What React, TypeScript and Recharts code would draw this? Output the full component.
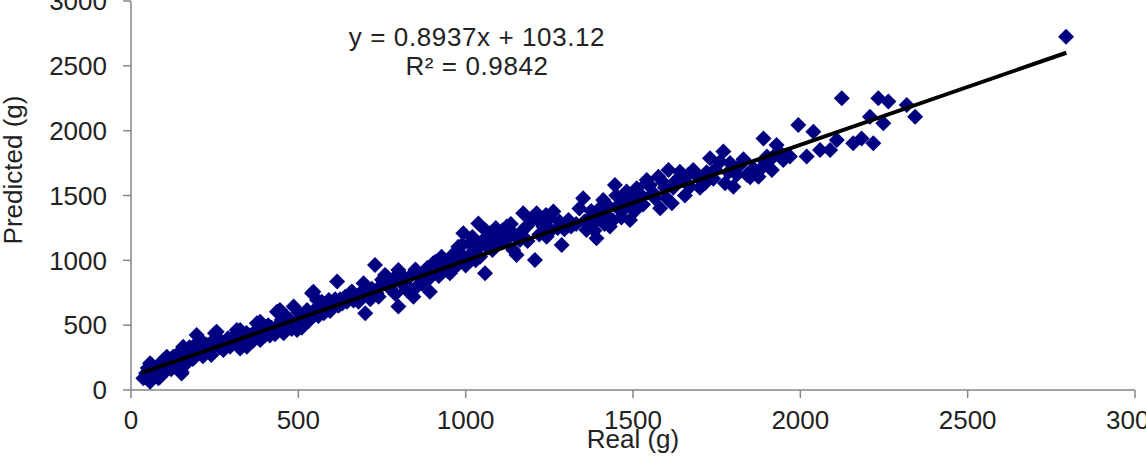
import React from "react";
import { ScatterChart, Scatter, XAxis, YAxis } from "recharts";

// values (grams)
const real = [
    37, 45, 57, 57, 62, 70, 82, 87, 95, 97, 107, 107, 115, 126, 135, 151, 151, 156, 161, 166, 172, 181, 190, 196, 200,
    206, 206, 215, 221, 230, 236, 245, 251, 256, 256, 265, 276, 285, 296, 305, 316, 320, 326, 326, 335, 341, 346, 355,
    361, 370, 376, 386, 386, 395, 406, 415, 426, 436, 440, 445, 456, 460, 465, 471, 480, 486, 496, 505, 516, 526, 535,
    541, 545, 556, 565, 576, 585, 591, 600, 616, 625, 631, 640, 655, 665, 680, 690, 695, 700, 715, 729, 734, 745, 759,
    764, 775, 799, 799, 810, 824, 835, 844, 855, 864, 880, 893, 903, 915, 928, 940, 953, 965, 978, 985, 993, 1000, 1013,
    1025, 1038, 1043, 1050, 1058, 1065, 1073, 1085, 1098, 1110, 1123, 1130, 1142, 1152, 1162, 1172, 1182, 1195, 1207,
    1212, 1220, 1232, 1242, 1250, 1262, 1275, 1287, 1307, 1330, 1351, 1361, 1370, 1381, 1391, 1400, 1411, 1420, 1431,
    1446, 1455, 1461, 1470, 1481, 1491, 1500, 1511, 1525, 1541, 1541, 1560, 1576, 1581, 1595, 1606, 1616, 1630, 1640,
    1655, 1670, 1680, 1695, 1715, 1730, 1745, 1770, 1775, 1790, 1800, 1820, 1840, 1860, 1875, 1890, 1900, 1915, 1929,
    1949, 1969, 1994, 2019, 2039, 2059, 2089, 2109, 2124, 2158, 2183, 2208, 2218, 2233, 2248, 2263, 2318, 2343, 2794,
    50, 75, 90, 120, 140, 145, 160, 175, 185, 210, 225, 240, 260, 270, 290, 300, 310, 330, 345, 365, 380, 400, 410, 420,
    430, 450, 470, 490, 500, 510, 520, 530, 550, 560, 570, 580, 595, 610, 620, 645, 660, 670, 685, 705, 720, 740, 750,
    770, 785, 790, 815, 830, 850, 870, 885, 895, 910, 920, 935, 945, 960, 970, 990, 1005, 1020, 1030, 1045, 1060, 1080,
    1090, 1100, 1115, 1135, 1145, 1170, 1185, 1200, 1225, 1240, 1255, 1280, 1295, 1315, 1340, 1355, 1375, 1385, 1405,
    1415, 1425, 1440, 1450, 1465, 1475, 1490, 1505, 1515, 1530, 1550, 1565, 1590, 1600, 1620, 1650, 1665, 1700, 1720,
    1740, 1760, 1785, 1810, 1830, 1850, 1880, 1895, 1920, 1940,
];
const predicted = [
    90, 130, 64, 206, 193, 150, 90, 103, 180, 231, 154, 257, 200, 257, 230, 128, 141, 334, 290, 206, 250, 308, 280, 424,
    370, 334, 308, 260, 283, 330, 308, 380, 437, 360, 450, 330, 308, 360, 334, 390, 463, 380, 321, 463, 350, 386, 334,
    420, 411, 450, 514, 386, 527, 440, 463, 420, 463, 604, 500, 617, 437, 520, 565, 540, 470, 643, 463, 560, 514, 617,
    580, 746, 758, 694, 640, 591, 620, 694, 660, 836, 700, 668, 720, 746, 690, 681, 760, 823, 591, 700, 964, 746, 800,
    887, 874, 780, 925, 643, 820, 771, 880, 720, 800, 874, 900, 758, 977, 930, 1028, 960, 900, 1000, 1105, 1050, 1208,
    960, 1131, 1080, 1285, 1028, 1150, 900, 1100, 1208, 1160, 1195, 1230, 1260, 1180, 1080, 1041, 1157, 1363, 1260,
    1300, 1003, 1363, 1200, 1260, 1182, 1320, 1376, 1250, 1118, 1311, 1280, 1478, 1234, 1320, 1285, 1170, 1400, 1465,
    1350, 1260, 1581, 1420, 1388, 1470, 1530, 1311, 1450, 1555, 1500, 1594, 1620, 1520, 1645, 1401, 1560, 1697, 1440,
    1620, 1684, 1500, 1568, 1697, 1640, 1594, 1787, 1700, 1839, 1594, 1750, 1568, 1735, 1660, 1709, 1645, 1940, 1800,
    1697, 1889, 1774, 1800, 2044, 1800, 1992, 1851, 1851, 1928, 2250, 1902, 1940, 2108, 1902, 2250, 2057, 2224, 2198,
    2108, 2725,
    170, 120, 210, 160, 280, 190, 230, 330, 240, 380, 350, 270, 400, 340, 400, 350, 420, 400, 440, 380, 470, 420, 500, 480,
    430, 540, 480, 510, 600, 480, 560, 530, 620, 570, 680, 640, 610, 700, 650, 680, 760, 720, 730, 760, 780, 720, 850,
    830, 860, 740, 870, 790, 930, 820, 940, 870, 990, 880, 1000, 920, 1040, 950, 1120, 1020, 1180, 1000, 1120, 1230, 1080,
    1250, 1130, 1150, 1280, 1200, 1230, 1150, 1330, 1290, 1350, 1230, 1300, 1240, 1260, 1400, 1300, 1380, 1230, 1340,
    1280, 1420, 1310, 1500, 1330, 1400, 1500, 1380, 1470, 1430, 1580, 1480, 1600, 1480, 1560, 1620, 1660, 1560, 1680,
    1630, 1760, 1680, 1660, 1780, 1640, 1700, 1760, 1800, 1830,
];

// trendline end points (y = 0.8937x + 103.12)
const trendReal = [32, 2795];
const trendPredicted = [132, 2601];

const xTicks = [0, 500, 1000, 1500, 2000, 2500, 3000];
const yTicks = [0, 500, 1000, 1500, 2000, 2500, 3000];

const points = real.map((x, i) => ({ x, y: predicted[i] }));
const trend = trendReal.map((x, i) => ({ x, y: trendPredicted[i] }));

const FONT = '"Liberation Sans", Arial, sans-serif';
const AXIS = "#868686";

const Diamond = (props: any) => {
    const { cx, cy } = props;
    const r = 8;
    return <path d={`M${cx},${cy - r}L${cx + r},${cy}L${cx},${cy + r}L${cx - r},${cy}Z`} fill="#000080" />;
};

const App = () => {
    return (
        <div style={{ position: "absolute", left: 0, top: 0, width: 1146, height: 459, background: "#fff", fontFamily: FONT }}>
            <ScatterChart width={1146} height={459} margin={{ top: 1, right: 11, left: 0, bottom: 0 }}>
                <XAxis
                    type="number"
                    dataKey="x"
                    domain={[0, 3000]}
                    ticks={xTicks}
                    interval={0}
                    height={69}
                    tickSize={8}
                    tickMargin={13}
                    axisLine={{ stroke: AXIS, strokeWidth: 1.5 }}
                    tickLine={{ stroke: AXIS, strokeWidth: 1.5 }}
                    tick={{ fill: "#222", fontSize: 26, fontFamily: FONT }}
                    label={{ value: "Real (g)", position: "insideBottom", offset: 11, fill: "#222", fontSize: 26, fontFamily: FONT }}
                />
                <YAxis
                    type="number"
                    dataKey="y"
                    domain={[0, 3000]}
                    ticks={yTicks}
                    interval={0}
                    width={131}
                    tickSize={8}
                    tickMargin={16}
                    axisLine={{ stroke: AXIS, strokeWidth: 1.5 }}
                    tickLine={{ stroke: AXIS, strokeWidth: 1.5 }}
                    tick={{ fill: "#222", fontSize: 26, fontFamily: FONT }}
                    label={{
                        content: () => (
                            <text
                                transform="translate(22, 170) rotate(-90)"
                                textAnchor="middle"
                                fill="#222"
                                fontSize={26}
                                fontFamily={FONT}
                            >
                                Predicted (g)
                            </text>
                        ),
                    }}
                />
                <Scatter data={points} shape={Diamond} isAnimationActive={false} />
                <Scatter
                    data={trend}
                    line={{ stroke: "#000", strokeWidth: 4 }}
                    lineType="joint"
                    shape={() => <g />}
                    isAnimationActive={false}
                />
            </ScatterChart>
            <div
                style={{
                    position: "absolute",
                    left: 277,
                    top: 23,
                    width: 400,
                    textAlign: "center",
                    fontSize: 26,
                    lineHeight: "29px",
                    letterSpacing: 0.6,
                    color: "#222",
                }}
            >
                <div>y = 0.8937x + 103.12</div>
                <div>R² = 0.9842</div>
            </div>
        </div>
    );
};

export default App;
